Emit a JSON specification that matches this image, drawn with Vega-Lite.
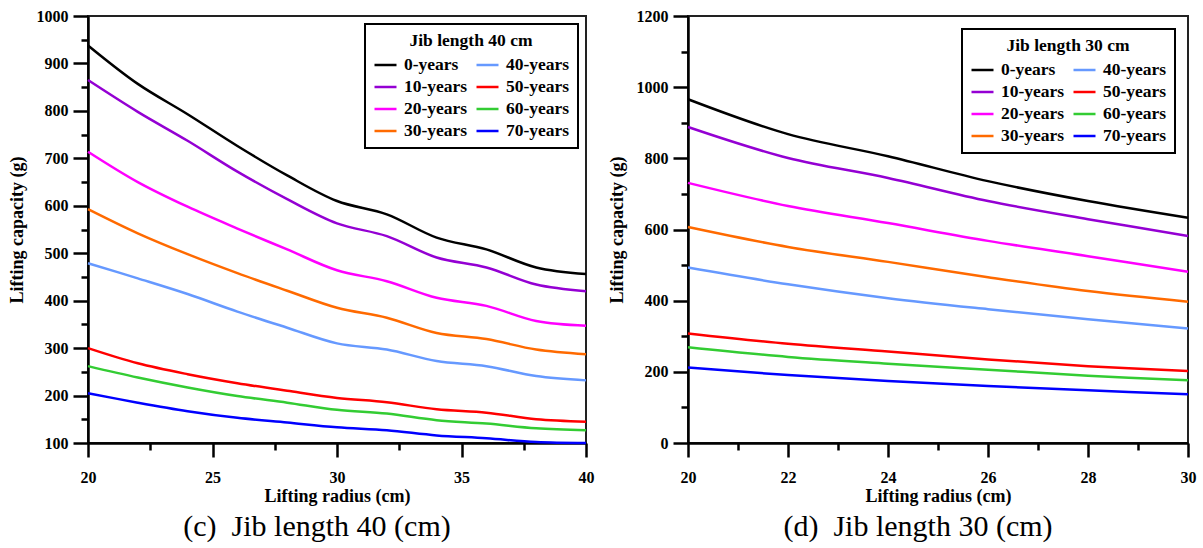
{
  "$schema": "https://vega.github.io/schema/vega-lite/v6.json",
  "padding": {"left": 7, "top": 7, "right": 5, "bottom": 5},
  "datasets": {
    "c40": [
      {"series":"0-years","r":20,"cap":938},{"series":"0-years","r":22,"cap":857},{"series":"0-years","r":24,"cap":793},{"series":"0-years","r":26,"cap":726},{"series":"0-years","r":28,"cap":664},{"series":"0-years","r":30,"cap":610},{"series":"0-years","r":32,"cap":582},{"series":"0-years","r":34,"cap":533},{"series":"0-years","r":36,"cap":508},{"series":"0-years","r":38,"cap":470},{"series":"0-years","r":40,"cap":456},
      {"series":"10-years","r":20,"cap":865},{"series":"10-years","r":22,"cap":798},{"series":"10-years","r":24,"cap":737},{"series":"10-years","r":26,"cap":672},{"series":"10-years","r":28,"cap":614},{"series":"10-years","r":30,"cap":563},{"series":"10-years","r":32,"cap":536},{"series":"10-years","r":34,"cap":491},{"series":"10-years","r":36,"cap":470},{"series":"10-years","r":38,"cap":434},{"series":"10-years","r":40,"cap":420},
      {"series":"20-years","r":20,"cap":714},{"series":"20-years","r":22,"cap":650},{"series":"20-years","r":24,"cap":598},{"series":"20-years","r":26,"cap":552},{"series":"20-years","r":28,"cap":508},{"series":"20-years","r":30,"cap":464},{"series":"20-years","r":32,"cap":441},{"series":"20-years","r":34,"cap":406},{"series":"20-years","r":36,"cap":389},{"series":"20-years","r":38,"cap":357},{"series":"20-years","r":40,"cap":347},
      {"series":"30-years","r":20,"cap":593},{"series":"30-years","r":22,"cap":542},{"series":"30-years","r":24,"cap":498},{"series":"30-years","r":26,"cap":458},{"series":"30-years","r":28,"cap":421},{"series":"30-years","r":30,"cap":385},{"series":"30-years","r":32,"cap":364},{"series":"30-years","r":34,"cap":332},{"series":"30-years","r":36,"cap":319},{"series":"30-years","r":38,"cap":297},{"series":"30-years","r":40,"cap":287},
      {"series":"40-years","r":20,"cap":479},{"series":"40-years","r":22,"cap":447},{"series":"40-years","r":24,"cap":414},{"series":"40-years","r":26,"cap":377},{"series":"40-years","r":28,"cap":343},{"series":"40-years","r":30,"cap":310},{"series":"40-years","r":32,"cap":297},{"series":"40-years","r":34,"cap":273},{"series":"40-years","r":36,"cap":262},{"series":"40-years","r":38,"cap":241},{"series":"40-years","r":40,"cap":232},
      {"series":"50-years","r":20,"cap":300},{"series":"50-years","r":22,"cap":268},{"series":"50-years","r":24,"cap":245},{"series":"50-years","r":26,"cap":226},{"series":"50-years","r":28,"cap":210},{"series":"50-years","r":30,"cap":195},{"series":"50-years","r":32,"cap":186},{"series":"50-years","r":34,"cap":171},{"series":"50-years","r":36,"cap":164},{"series":"50-years","r":38,"cap":150},{"series":"50-years","r":40,"cap":145},
      {"series":"60-years","r":20,"cap":262},{"series":"60-years","r":22,"cap":238},{"series":"60-years","r":24,"cap":217},{"series":"60-years","r":26,"cap":199},{"series":"60-years","r":28,"cap":185},{"series":"60-years","r":30,"cap":170},{"series":"60-years","r":32,"cap":162},{"series":"60-years","r":34,"cap":148},{"series":"60-years","r":36,"cap":141},{"series":"60-years","r":38,"cap":131},{"series":"60-years","r":40,"cap":127},
      {"series":"70-years","r":20,"cap":205},{"series":"70-years","r":22,"cap":185},{"series":"70-years","r":24,"cap":167},{"series":"70-years","r":26,"cap":153},{"series":"70-years","r":28,"cap":143},{"series":"70-years","r":30,"cap":133},{"series":"70-years","r":32,"cap":127},{"series":"70-years","r":34,"cap":116},{"series":"70-years","r":36,"cap":110},{"series":"70-years","r":38,"cap":102},{"series":"70-years","r":40,"cap":100}
    ],
    "d30": [
      {"series":"0-years","r":20,"cap":966},{"series":"0-years","r":22,"cap":868},{"series":"0-years","r":24,"cap":806},{"series":"0-years","r":26,"cap":736},{"series":"0-years","r":28,"cap":680},{"series":"0-years","r":30,"cap":633},
      {"series":"10-years","r":20,"cap":888},{"series":"10-years","r":22,"cap":801},{"series":"10-years","r":24,"cap":745},{"series":"10-years","r":26,"cap":680},{"series":"10-years","r":28,"cap":629},{"series":"10-years","r":30,"cap":582},
      {"series":"20-years","r":20,"cap":731},{"series":"20-years","r":22,"cap":666},{"series":"20-years","r":24,"cap":618},{"series":"20-years","r":26,"cap":568},{"series":"20-years","r":28,"cap":525},{"series":"20-years","r":30,"cap":481},
      {"series":"30-years","r":20,"cap":607},{"series":"30-years","r":22,"cap":551},{"series":"30-years","r":24,"cap":509},{"series":"30-years","r":26,"cap":466},{"series":"30-years","r":28,"cap":427},{"series":"30-years","r":30,"cap":397},
      {"series":"40-years","r":20,"cap":493},{"series":"40-years","r":22,"cap":446},{"series":"40-years","r":24,"cap":407},{"series":"40-years","r":26,"cap":376},{"series":"40-years","r":28,"cap":348},{"series":"40-years","r":30,"cap":322},
      {"series":"50-years","r":20,"cap":308},{"series":"50-years","r":22,"cap":279},{"series":"50-years","r":24,"cap":257},{"series":"50-years","r":26,"cap":235},{"series":"50-years","r":28,"cap":216},{"series":"50-years","r":30,"cap":202},
      {"series":"60-years","r":20,"cap":269},{"series":"60-years","r":22,"cap":242},{"series":"60-years","r":24,"cap":223},{"series":"60-years","r":26,"cap":206},{"series":"60-years","r":28,"cap":189},{"series":"60-years","r":30,"cap":176},
      {"series":"70-years","r":20,"cap":212},{"series":"70-years","r":22,"cap":191},{"series":"70-years","r":24,"cap":174},{"series":"70-years","r":26,"cap":160},{"series":"70-years","r":28,"cap":148},{"series":"70-years","r":30,"cap":137}
    ]
  },
  "spacing": 12,
  "hconcat": [
    {
      "width": 498,
      "height": 427,
      "data": {"name": "c40"},
      "title": {"text": "(c)\u00a0 Jib length 40 (cm)", "orient": "bottom", "anchor": "middle", "frame": "group", "dx": -20, "offset": 7, "font": "Liberation Serif", "fontSize": 30, "fontWeight": "normal", "color": "black"},
      "layer": [
        {
          "mark": {"type": "line", "interpolate": "catmull-rom", "strokeWidth": 2.5},
          "encoding": {
            "x": {"field": "r", "type": "quantitative", "scale": {"domain": [20, 40], "nice": false, "zero": false},
                  "axis": {"orient": "bottom", "values": [20, 25, 30, 35, 40], "format": "d", "tickSize": 14, "labelPadding": 12, "title": "Lifting radius (cm)", "titlePadding": 2}},
            "y": {"field": "cap", "type": "quantitative", "scale": {"domain": [100, 1000], "nice": false, "zero": false},
                  "axis": {"orient": "left", "values": [100, 200, 300, 400, 500, 600, 700, 800, 900, 1000], "format": "d", "tickSize": 15, "labelPadding": 5, "title": "Lifting capacity (g)", "titlePadding": 10}},
            "color": {"field": "series", "type": "nominal",
                      "scale": {"domain": ["0-years", "10-years", "20-years", "30-years", "40-years", "50-years", "60-years", "70-years"],
                                "range": ["#000000", "#9400d3", "#ff00ff", "#ff6a00", "#6699ff", "#ff0000", "#33cc33", "#0000ff"]},
                      "legend": {"title": "Jib length 40 cm", "orient": "top-right", "offset": 8, "columns": 2}}
          }
        },
        {
          "mark": {"type": "line", "opacity": 0},
          "encoding": {
            "x": {"field": "r", "type": "quantitative", "axis": {"orient": "bottom", "values": [22.5, 27.5, 32.5, 37.5], "tickSize": 7, "labels": false, "domain": false, "title": null}},
            "y": {"field": "cap", "type": "quantitative", "axis": {"orient": "left", "values": [150, 250, 350, 450, 550, 650, 750, 850, 950], "tickSize": 7, "labels": false, "domain": false, "title": null}},
            "detail": {"field": "series"}
          }
        }
      ],
      "resolve": {"axis": {"x": "independent", "y": "independent"}}
    },
    {
      "width": 500,
      "height": 427,
      "data": {"name": "d30"},
      "title": {"text": "(d)\u00a0 Jib length 30 (cm)", "orient": "bottom", "anchor": "middle", "frame": "group", "dx": -20, "offset": 7, "font": "Liberation Serif", "fontSize": 30, "fontWeight": "normal", "color": "black"},
      "layer": [
        {
          "mark": {"type": "line", "interpolate": "catmull-rom", "strokeWidth": 2.5},
          "encoding": {
            "x": {"field": "r", "type": "quantitative", "scale": {"domain": [20, 30], "nice": false, "zero": false},
                  "axis": {"orient": "bottom", "values": [20, 22, 24, 26, 28, 30], "format": "d", "tickSize": 14, "labelPadding": 12, "title": "Lifting radius (cm)", "titlePadding": 2}},
            "y": {"field": "cap", "type": "quantitative", "scale": {"domain": [0, 1200], "nice": false},
                  "axis": {"orient": "left", "values": [0, 200, 400, 600, 800, 1000, 1200], "format": "d", "tickSize": 15, "labelPadding": 5, "title": "Lifting capacity (g)", "titlePadding": 10}},
            "color": {"field": "series", "type": "nominal",
                      "scale": {"domain": ["0-years", "10-years", "20-years", "30-years", "40-years", "50-years", "60-years", "70-years"],
                                "range": ["#000000", "#9400d3", "#ff00ff", "#ff6a00", "#6699ff", "#ff0000", "#33cc33", "#0000ff"]},
                      "legend": {"title": "Jib length 30 cm", "orient": "top-right", "offset": 13, "columns": 2}}
          }
        },
        {
          "mark": {"type": "line", "opacity": 0},
          "encoding": {
            "x": {"field": "r", "type": "quantitative", "axis": {"orient": "bottom", "values": [21, 23, 25, 27, 29], "tickSize": 7, "labels": false, "domain": false, "title": null}},
            "y": {"field": "cap", "type": "quantitative", "axis": {"orient": "left", "values": [100, 300, 500, 700, 900, 1100], "tickSize": 7, "labels": false, "domain": false, "title": null}},
            "detail": {"field": "series"}
          }
        }
      ],
      "resolve": {"axis": {"x": "independent", "y": "independent"}}
    }
  ],
  "resolve": {"scale": {"color": "independent"}, "legend": {"color": "independent"}},
  "config": {
    "view": {"stroke": "#222222", "strokeWidth": 2},
    "axis": {
      "grid": false, "domainColor": "black", "domainWidth": 2.5, "tickColor": "black", "tickWidth": 2.5,
      "labelFont": "Liberation Serif", "labelFontWeight": "bold", "labelFontSize": 16, "labelColor": "black",
      "labelFlush": false, "labelOverlap": false,
      "titleFont": "Liberation Serif", "titleFontWeight": "bold", "titleFontSize": 18, "titleColor": "black"
    },
    "legend": {
      "symbolType": "stroke", "symbolSize": 484, "symbolStrokeWidth": 2.5,
      "labelFont": "Liberation Serif", "labelFontWeight": "bold", "labelFontSize": 17.5, "labelColor": "black", "labelOffset": 6, "labelLimit": 0,
      "titleFont": "Liberation Serif", "titleFontWeight": "bold", "titleFontSize": 17.5, "titleColor": "black", "titleAnchor": "middle", "titlePadding": 3, "titleLimit": 0,
      "rowPadding": 1, "columnPadding": 3, "padding": 8,
      "strokeColor": "black", "strokeWidth": 2, "fillColor": "white"
    }
  }
}
